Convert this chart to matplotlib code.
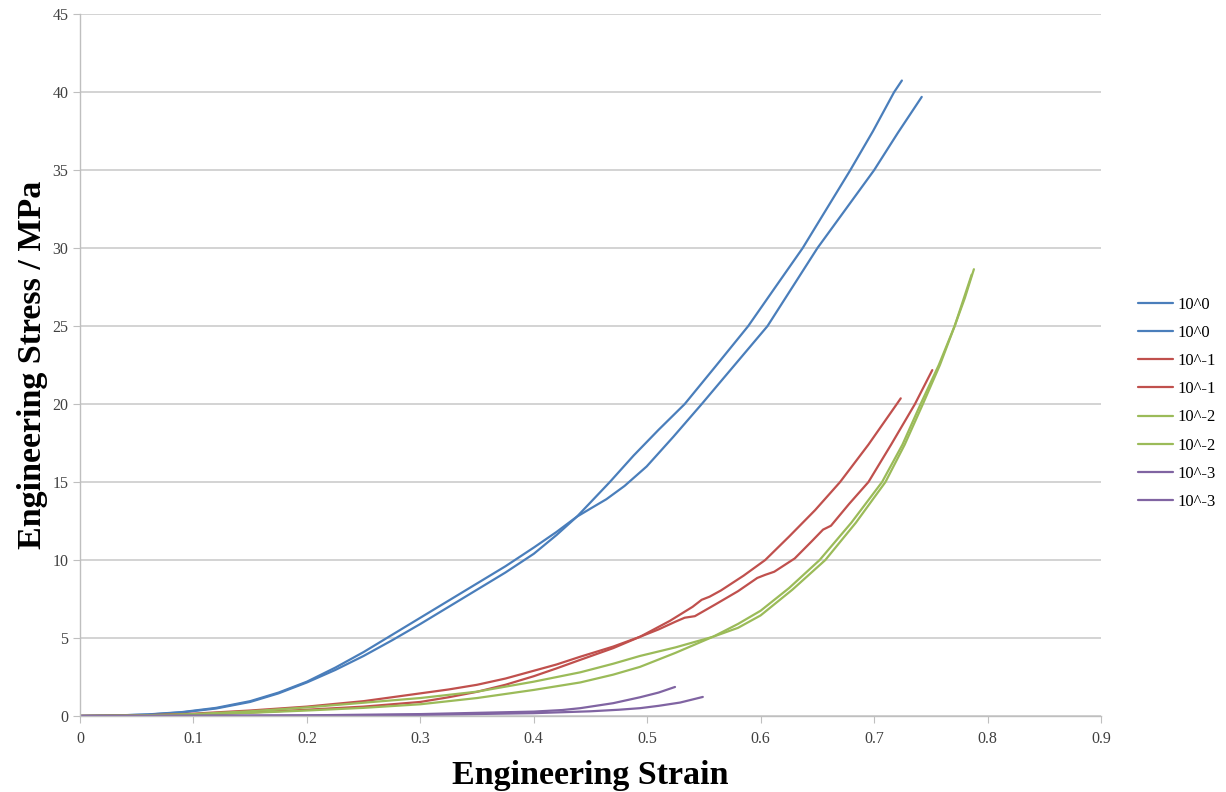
import matplotlib
matplotlib.use("Agg")
import matplotlib.pyplot as plt

# strain / stress readings for each test, two runs per strain rate
x_blue1 = [0, 0.03, 0.06, 0.09, 0.12, 0.15, 0.175, 0.2, 0.225, 0.25, 0.275, 0.3, 0.325, 0.35, 0.375, 0.4, 0.42, 0.438,
           0.452, 0.467, 0.488, 0.51, 0.533, 0.56, 0.589, 0.612, 0.637, 0.658, 0.679, 0.699, 0.7176, 0.7245]
y_blue1 = [0, 0.03, 0.1, 0.25, 0.52, 0.95, 1.5, 2.2, 3.1, 4.1, 5.2, 6.3, 7.4, 8.5, 9.6, 10.8, 11.8, 12.78,
           13.85, 15.0, 16.7, 18.35, 20.0, 22.4, 25.0, 27.4, 30.0, 32.5, 35.0, 37.5, 40.0, 40.75]
x_blue2 = [0, 0.03, 0.06, 0.09, 0.12, 0.15, 0.175, 0.2, 0.225, 0.25, 0.275, 0.3, 0.325, 0.35, 0.375, 0.4, 0.42, 0.438,
           0.45, 0.464, 0.48, 0.4995, 0.523, 0.548, 0.577, 0.606, 0.628, 0.650, 0.675, 0.700, 0.721, 0.742]
y_blue2 = [0, 0.03, 0.09, 0.23, 0.48, 0.9, 1.45, 2.15, 2.95, 3.85, 4.85, 5.9, 7.0, 8.1, 9.2, 10.4, 11.6, 12.78,
           13.3, 13.9, 14.75, 16.0, 17.9, 20.0, 22.5, 25.0, 27.5, 30.0, 32.5, 35.0, 37.4, 39.7]

x_red1 = [0, 0.05, 0.1, 0.15, 0.2, 0.25, 0.3, 0.325, 0.35, 0.375, 0.4, 0.42, 0.441, 0.47, 0.4937, 0.52, 0.54, 0.548,
          0.555, 0.565, 0.585, 0.604, 0.625, 0.648, 0.670, 0.695, 0.720, 0.7235]
y_red1 = [0, 0.03, 0.15, 0.35, 0.6, 0.95, 1.45, 1.7, 2.0, 2.4, 2.9, 3.3, 3.8, 4.45, 5.08, 6.1, 7.0, 7.45,
          7.65, 8.05, 9.0, 10.0, 11.5, 13.2, 15.0, 17.4, 20.0, 20.37]
x_red2 = [0, 0.05, 0.1, 0.15, 0.2, 0.25, 0.3, 0.325, 0.35, 0.375, 0.4, 0.42, 0.441, 0.47, 0.4937, 0.51, 0.525, 0.533,
          0.542, 0.56, 0.58, 0.597, 0.604, 0.612, 0.630, 0.645, 0.655, 0.662, 0.678, 0.695, 0.715, 0.736, 0.7513]
y_red2 = [0, 0.02, 0.1, 0.22, 0.4, 0.6, 0.9, 1.2, 1.55, 2.0, 2.55, 3.05, 3.6, 4.35, 5.08, 5.55, 6.05, 6.3,
          6.4, 7.15, 8.0, 8.85, 9.05, 9.25, 10.1, 11.2, 11.95, 12.2, 13.6, 15.0, 17.4, 20.0, 22.18]

x_green1 = [0, 0.05, 0.1, 0.15, 0.2, 0.25, 0.3, 0.35, 0.4, 0.441, 0.47, 0.4937, 0.525, 0.558, 0.58, 0.6, 0.628,
            0.657, 0.684, 0.710, 0.727, 0.743, 0.758, 0.771, 0.780, 0.788]
y_green1 = [0, 0.03, 0.12, 0.3, 0.55, 0.85, 1.15, 1.56, 2.2, 2.8, 3.35, 3.85, 4.4, 5.08, 5.65, 6.45, 8.1,
            10.0, 12.4, 15.0, 17.4, 20.0, 22.5, 25.0, 26.8, 28.65]
x_green2 = [0, 0.05, 0.1, 0.15, 0.2, 0.25, 0.3, 0.35, 0.4, 0.441, 0.47, 0.4937, 0.525, 0.558, 0.58, 0.6, 0.625,
            0.652, 0.68, 0.707, 0.725, 0.741, 0.757, 0.771, 0.786]
y_green2 = [0, 0.02, 0.08, 0.2, 0.35, 0.52, 0.75, 1.15, 1.67, 2.15, 2.65, 3.15, 4.05, 5.08, 5.9, 6.75, 8.2,
            10.0, 12.4, 15.0, 17.4, 20.0, 22.5, 25.0, 28.3]

x_purple1 = [0, 0.1, 0.2, 0.3, 0.35, 0.4, 0.425, 0.441, 0.47, 0.4937, 0.51, 0.5245]
y_purple1 = [0, 0.01, 0.04, 0.12, 0.2, 0.28, 0.38, 0.5, 0.82, 1.2, 1.5, 1.86]
x_purple2 = [0, 0.1, 0.2, 0.3, 0.4, 0.45, 0.475, 0.4937, 0.51, 0.529, 0.549]
y_purple2 = [0, 0.01, 0.03, 0.07, 0.18, 0.3, 0.4, 0.5, 0.65, 0.86, 1.22]

labels = ["10^0", "10^0", "10^-1", "10^-1", "10^-2", "10^-2", "10^-3", "10^-3"]

blue = "#4a7ebb"
red = "#c0504d"
green = "#9bbb59"
purple = "#8064a2"

plt.rcParams['font.family'] = ['Liberation Serif', 'DejaVu Serif']

fig = plt.figure(figsize=(12.26, 7.92), dpi=100)
ax = fig.add_axes([0.0653, 0.096, 0.8327, 0.886])

series = [(x_blue1, y_blue1, blue), (x_blue2, y_blue2, blue),
          (x_red1, y_red1, red), (x_red2, y_red2, red),
          (x_green1, y_green1, green), (x_green2, y_green2, green),
          (x_purple1, y_purple1, purple), (x_purple2, y_purple2, purple)]
for (xs, ys, c), lab in zip(series, labels):
    ax.plot(xs, ys, color=c, lw=1.6, label=lab, solid_capstyle='round', solid_joinstyle='round')

ax.set_xlim(0, 0.9)
ax.set_ylim(0, 45)
ax.set_xticks([i / 10 for i in range(10)])
ax.set_xticklabels(["0", "0.1", "0.2", "0.3", "0.4", "0.5", "0.6", "0.7", "0.8", "0.9"])
ax.set_yticks(range(0, 50, 5))
ax.yaxis.grid(True, color="#d0d0d0", lw=1.3)
ax.set_axisbelow(True)
for s in ["top", "right"]:
    ax.spines[s].set_visible(False)
for s in ["left", "bottom"]:
    ax.spines[s].set_color("#bfbfbf")
    ax.spines[s].set_linewidth(1.0)
ax.tick_params(axis="both", colors="#bfbfbf", labelcolor="#404040", labelsize=11.5, length=5, direction="out")
ax.tick_params(axis="x", pad=6)

ax.set_xlabel("Engineering Strain", fontsize=24.5, fontweight="bold", labelpad=9)
ax.set_ylabel("Engineering Stress / MPa", fontsize=24.5, fontweight="bold", labelpad=3)

fig.legend(loc="center left", bbox_to_anchor=(0.928, 0.4907), frameon=False,
           fontsize=12, handlelength=2.1, handletextpad=0.3, labelspacing=0.73,
           borderpad=0, borderaxespad=0)

plt.savefig("out.png", dpi=100)
